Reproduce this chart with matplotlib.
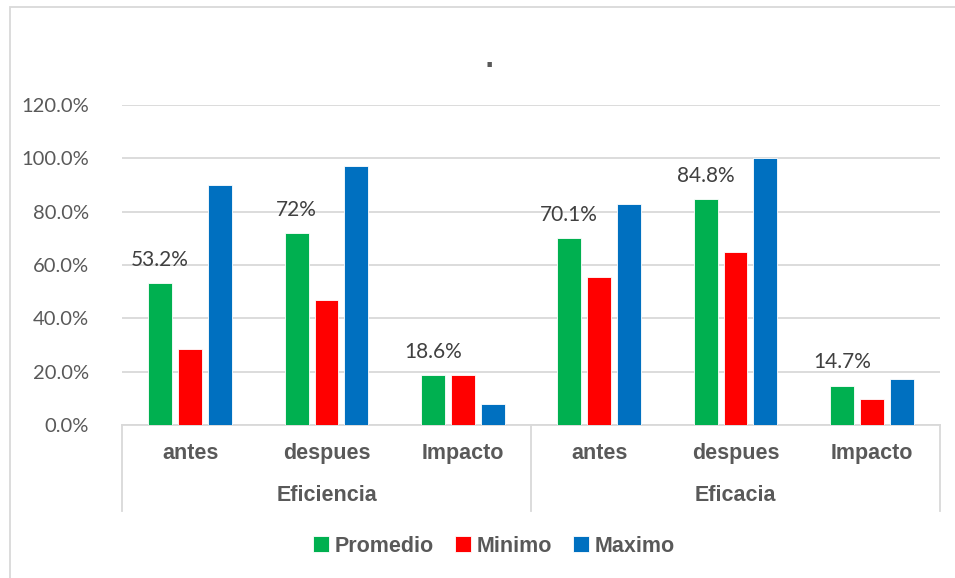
import matplotlib.pyplot as plt
import numpy as np
from matplotlib.patches import Rectangle
from matplotlib import font_manager

# valores por grupo (en %)
groups = ["Eficiencia", "Eficacia"]
stages = ["antes", "despues", "Impacto"]
promedio = [53.2, 72.0, 18.6, 70.1, 84.8, 14.7]
minimo = [28.5, 47.0, 18.6, 55.5, 65.0, 9.6]
maximo = [90.0, 97.3, 7.7, 82.8, 100.0, 17.2]
promedio_labels = ["53.2%", "72%", "18.6%", "70.1%", "84.8%", "14.7%"]

series = [("Promedio", promedio, "#00B050"),
          ("Minimo", minimo, "#FF0000"),
          ("Maximo", maximo, "#0070C0")]

installed = {f.name for f in font_manager.fontManager.ttflist}
bold_font = "Liberation Sans Narrow" if "Liberation Sans Narrow" in installed else "Liberation Sans"
bold_size = 17 if bold_font == "Liberation Sans Narrow" else 15.5

gray = "#595959"
fig = plt.figure(figsize=(9.55, 5.78), dpi=100)
ax = fig.add_axes([122 / 955, 1 - 425 / 578, (940 - 122) / 955, (425 - 105) / 578])

x = np.arange(len(promedio))
width = 0.176
step = 0.22
for i, (name, vals, color) in enumerate(series):
    ax.bar(x + (i - 1) * step, vals, width, color=color, label=name,
           edgecolor="white", linewidth=0.6, zorder=3)

# etiquetas de datos sobre la barra del promedio
for xi, v, lab in zip(x, promedio, promedio_labels):
    ax.text(xi - step, v + 5.0, lab, ha="center", va="bottom",
            fontsize=15, color="#404040", family="Lato")

ax.set_xlim(-0.5, len(x) - 0.5)
ax.set_ylim(0, 120)
ax.set_yticks(np.arange(0, 121, 20))
ax.set_yticklabels([f"{t:.1f}%" for t in np.arange(0, 121, 20)],
                   fontsize=14.5, color=gray, family="Lato")
ax.yaxis.grid(True, color="#D9D9D9", linewidth=1.3, zorder=0)
ax.tick_params(axis="y", length=0, pad=24)
ax.tick_params(axis="x", length=0)
ax.set_xticks([])
for s in ["top", "right", "left"]:
    ax.spines[s].set_visible(False)
ax.spines["bottom"].set_color("#D9D9D9")
ax.spines["bottom"].set_linewidth(1.3)

# ejes de categorias en dos niveles
trans = ax.get_xaxis_transform()
for xi, name in zip(x, stages * 2):
    ax.text(xi, -0.09, name, transform=trans, ha="center", va="center",
            fontsize=bold_size, fontweight="bold", color=gray, family=bold_font)
for gi, g in enumerate(groups):
    ax.text(gi * 3 + 1, -0.22, g, transform=trans, ha="center", va="center",
            fontsize=bold_size, fontweight="bold", color=gray, family=bold_font)
for xs in [-0.5, 2.5, 5.5]:
    ax.plot([xs, xs], [0, -0.27], transform=trans, color="#D9D9D9",
            linewidth=1.3, clip_on=False)

fig.text(489 / 955, 1 - 60 / 578, ".", ha="center", va="center",
         fontsize=18, fontweight="bold", color=gray)

leg = fig.legend(loc="center", bbox_to_anchor=(0.517, 1 - 546 / 578), ncol=3,
                 frameon=False, handlelength=0.75, handleheight=0.75,
                 handletextpad=0.25, columnspacing=1.0,
                 prop={"family": bold_font, "weight": "bold", "size": bold_size})
for t in leg.get_texts():
    t.set_color(gray)

fig.patches.append(Rectangle((10 / 955, -0.02), 1.0, 1 - 7 / 578 + 0.02,
                             transform=fig.transFigure, fill=False,
                             edgecolor="#D9D9D9", linewidth=1.3))

fig.savefig("out.png", dpi=100)
